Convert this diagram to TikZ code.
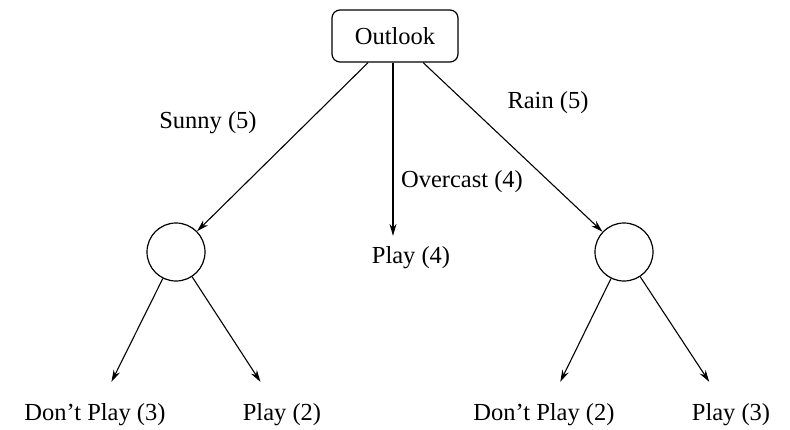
\documentclass[tikz,border=0pt]{standalone}
\usepackage{fontspec}
\setmainfont{Liberation Serif}
\usepackage{tikz}
\usetikzlibrary{arrows.meta}
\tikzset{
  dt/.style={x=1pt, y=-1pt, every node/.style={font=\fontsize{24.5}{29}\selectfont, inner sep=2pt}},
  attr/.style={draw, rounded corners=8pt, minimum width=126pt, minimum height=52pt, line width=1.2pt},
  test/.style={draw, circle, minimum size=58pt, line width=1.2pt},
  leaf/.style={outer sep=20pt},
  br/.style={-{Stealth[length=12pt,width=7pt]}, line width=1.1pt}
}
\begin{document}
\begin{tikzpicture}[dt]
\useasboundingbox (0,0) rectangle (790,429);
% root and tests
\node[attr] (outlook) at (395,36) {Outlook};
\node[test] (sunny) at (176,252) {};
\node[test] (rain) at (624,252) {};
% leaves
\node[leaf, outer sep=9pt] (play4) at (411,258) {Play (4)};
\node[leaf] (dp3) at (95,415) {Don't Play (3)};
\node[leaf] (p2) at (282,415) {Play (2)};
\node[leaf] (dp2) at (544,415) {Don't Play (2)};
\node[leaf] (p3) at (731,415) {Play (3)};
% branches
\draw[br] (outlook) -- (sunny);
\draw[br] ([xshift=-2pt]outlook.south) -- ([xshift=-2pt]outlook.south |- play4.north);
\draw[br] (outlook) -- (rain);
\draw[br] (sunny) -- (dp3);
\draw[br] (sunny) -- (p2);
\draw[br] (rain) -- (dp2);
\draw[br] (rain) -- (p3);
% branch labels
\node (lsunny) at (208,123) {Sunny (5)};
\node (lover) at (462,182) {Overcast (4)};
\node (lrain) at (548,103) {Rain (5)};
\end{tikzpicture}
\end{document}
